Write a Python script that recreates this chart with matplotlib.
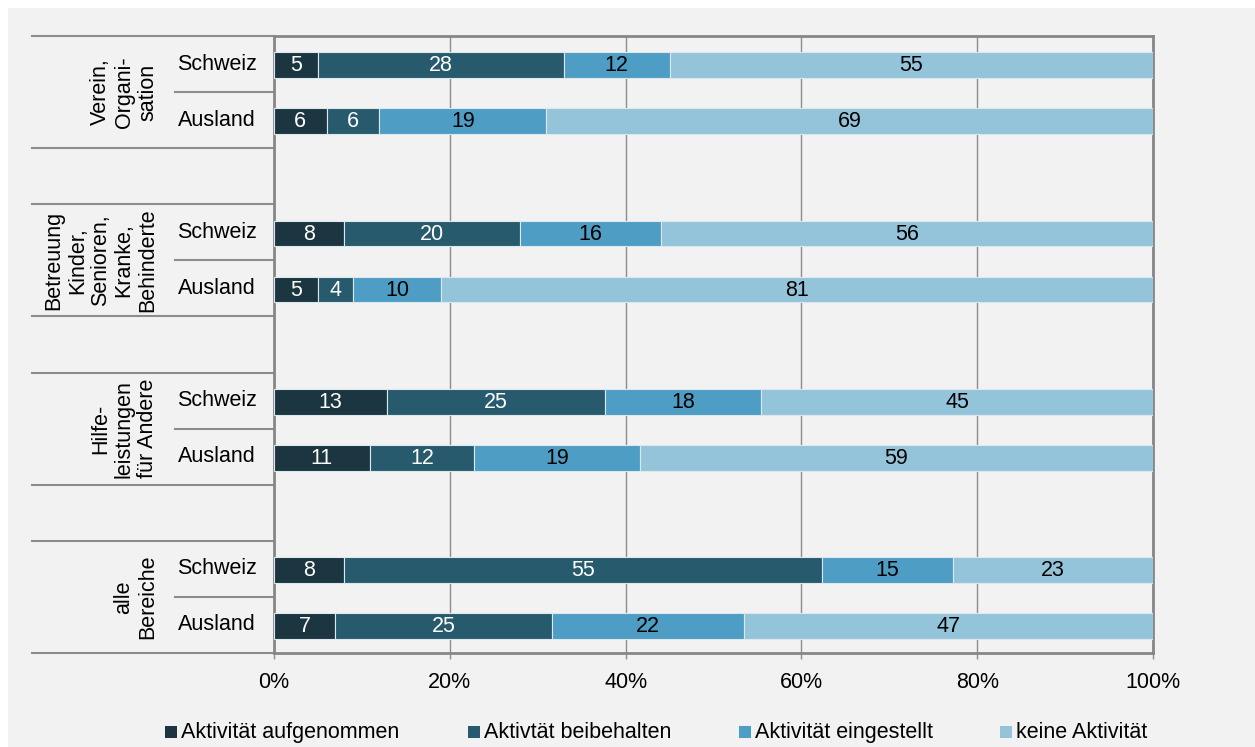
import matplotlib
matplotlib.use("Agg")
import matplotlib.pyplot as plt
import matplotlib.transforms as mtransforms
from matplotlib.patches import Rectangle
import numpy as np

plt.rcParams['font.family'] = ['Liberation Sans', 'DejaVu Sans']

groups = ["Verein,\nOrgani-\nsation", "Betreuung\nKinder,\nSenioren,\nKranke,\nBehinderte",
          "Hilfe-\nleistungen\nfür Andere", "alle\nBereiche"]
subcats = ["Schweiz", "Ausland"]
series_names = ["Aktivität aufgenommen", "Aktivtät beibehalten", "Aktivität eingestellt", "keine Aktivität"]
colors = ["#1b3641", "#275a6d", "#4e9dc4", "#94c4da"]
text_colors = ["white", "white", "#000000", "#000000"]

# rows: Verein CH, Verein Ausland, Betreuung CH, Betreuung Ausland, Hilfe CH, Hilfe Ausland, alle CH, alle Ausland
aufgenommen = [5, 6, 8, 5, 13, 11, 8, 7]
beibehalten = [28, 6, 20, 4, 25, 12, 55, 25]
eingestellt = [12, 19, 16, 10, 18, 19, 15, 22]
keine = [55, 69, 56, 81, 45, 59, 23, 47]
xticklabels = ["0%", "20%", "40%", "60%", "80%", "100%"]

W, H = 1255, 747
fig = plt.figure(figsize=(W / 100, H / 100), dpi=100, facecolor="white")
fig.patches.append(Rectangle((8 / W, 0), 1, (H - 8) / H, transform=fig.transFigure,
                             facecolor="#f2f2f2", edgecolor="none", zorder=-10))
ax_l, ax_r, ax_t, ax_b = 274, 1153, 36, 653
ax = fig.add_axes([ax_l / W, 1 - ax_b / H, (ax_r - ax_l) / W, (ax_b - ax_t) / H])
ax.set_facecolor("#f2f2f2")

data = np.array([aufgenommen, beibehalten, eingestellt, keine], dtype=float)
totals = data.sum(axis=0)
pct = data / totals * 100

# slot positions: each group takes 2 slots plus a blank slot between groups
ypos = []
for g in range(len(groups)):
    ypos += [g * 3, g * 3 + 1]
ypos = np.array(ypos)

left = np.zeros(len(ypos))
for s in range(4):
    ax.barh(ypos + 0.02, pct[s], left=left, height=0.46, color=colors[s],
            edgecolor="#dce7ee", linewidth=0.8, zorder=3)
    for i, y in enumerate(ypos):
        ax.text(left[i] + pct[s][i] / 2, y + 0.03, f"{int(data[s][i])}", ha="center", va="center",
                fontsize=15.5, color=text_colors[s], zorder=4)
    left += pct[s]

nslots = 3 * len(groups) - 1
ax.set_ylim(nslots - 0.5, -0.5)
ax.set_xlim(0, 100)
ax.set_xticks([0, 20, 40, 60, 80, 100])
ax.set_xticklabels(xticklabels, fontsize=15.5)
ax.tick_params(axis="x", length=4, color="#8c8c8c", pad=10, width=1)
ax.set_yticks([])
ax.grid(axis="x", color="#8c8c8c", linewidth=1, zorder=0)
ax.set_axisbelow(True)
for sp in ax.spines.values():
    sp.set_color("#878787")
    sp.set_linewidth(2)

# category axis lines
trans = mtransforms.blended_transform_factory(ax.transAxes, ax.transData)
x_long = (32 - ax_l) / (ax_r - ax_l)
x_short = (175 - ax_l) / (ax_r - ax_l)
group_bounds = [-0.5]
for g in range(len(groups)):
    group_bounds += [g * 3 + 1.5]
    if g < len(groups) - 1:
        group_bounds += [g * 3 + 2.5]
for b in group_bounds:
    ax.plot([x_long, 0], [b, b], transform=trans, color="#8c8c8c", linewidth=1.5, clip_on=False)
for g in range(len(groups)):
    b = g * 3 + 0.5
    ax.plot([x_short, 0], [b, b], transform=trans, color="#8c8c8c", linewidth=1.5, clip_on=False)

# labels
x_sub = (217 - ax_l) / (ax_r - ax_l)
x_grp = (158 - ax_l) / (ax_r - ax_l)
for i, y in enumerate(ypos):
    ax.text(x_sub, y, subcats[i % 2], transform=trans, ha="center", va="center", fontsize=15.5)
for g, name in enumerate(groups):
    ax.text(x_grp, g * 3 + 0.5, name, transform=trans, ha="right", va="center", rotation=90,
            multialignment="center", fontsize=15.5, linespacing=1.15)

# legend (manual, common baseline)
leg_x = [165, 468, 739, 1000]
leg_base = 738
for x0, c, name in zip(leg_x, colors, series_names):
    fig.patches.append(Rectangle((x0 / W, 1 - leg_base / H), 12 / W, 12 / H,
                                 transform=fig.transFigure, facecolor=c, edgecolor="none"))
    fig.text((x0 + 16) / W, 1 - leg_base / H, name, ha="left", va="baseline", fontsize=15.5)

fig.savefig("out.png", dpi=100, facecolor=fig.get_facecolor())
